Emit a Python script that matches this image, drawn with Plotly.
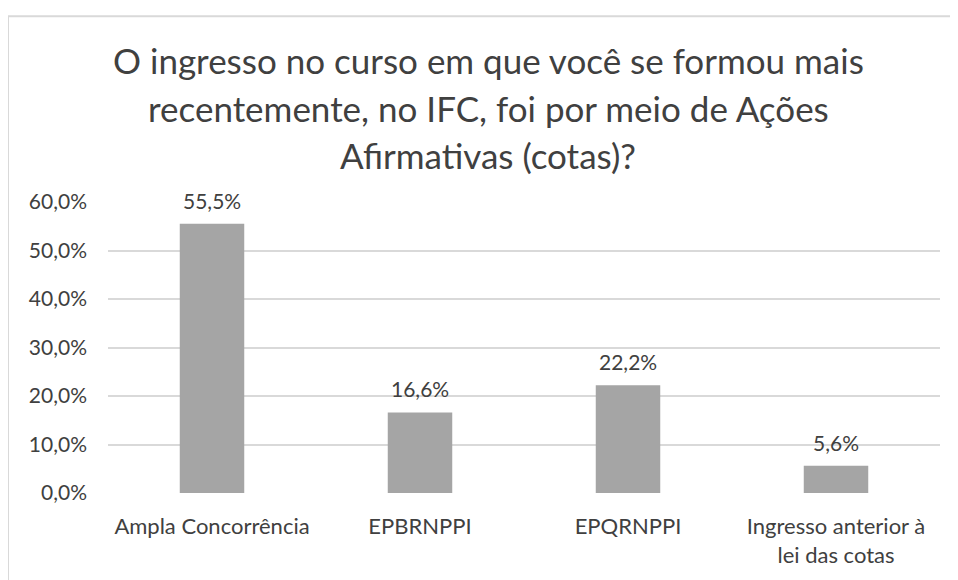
import plotly.graph_objects as go

# data
categories = ["Ampla Concorrência", "EPBRNPPI", "EPQRNPPI", "Ingresso anterior à<br>lei das cotas"]
percent = [55.5, 16.6, 22.2, 5.6]
y_ticks = [0, 10, 20, 30, 40, 50, 60]
title_lines = [
    "O ingresso no curso em que você se formou mais",
    "recentemente, no IFC, foi por meio de Ações",
    "Afirmativas (cotas)?",
]

TEXT = "#404040"
FONT = "Lato"

def pt(v):
    return f"{v:.1f}%".replace(".", ",")

fig = go.Figure()

fig.add_trace(go.Bar(
    x=categories, y=percent,
    marker=dict(color="#A5A5A5", line=dict(width=0)),
    showlegend=False, hoverinfo="skip",
))

# data labels above the bars
for c, v in zip(categories, percent):
    fig.add_annotation(x=c, y=v, text=pt(v), showarrow=False,
        yanchor="bottom", yshift=9,
        font=dict(size=21, color=TEXT, family=FONT))

# title, one line per annotation (Excel line spacing)
for i, line in enumerate(title_lines):
    fig.add_annotation(xref="paper", yref="paper",
        x=(488 - 108) / 832, y=(498 - (58 + 48 * i)) / 296,
        text=line, showarrow=False, xanchor="center", yanchor="middle",
        font=dict(size=35, color=TEXT, family=FONT))

# outer chart frame (cropped on the right and bottom, as in the source)
fig.add_shape(type="rect", xref="paper", yref="paper",
    x0=-0.1202, x1=1.2, y0=-0.4, y1=1.6385,
    line=dict(color="#D9D9D9", width=2), fillcolor="rgba(0,0,0,0)", layer="below")

# page body has an 8px margin, so the figure is 8px smaller and shifted
fig.update_layout(
    width=950, height=572,
    paper_bgcolor="white", plot_bgcolor="white",
    margin=dict(l=100, r=18, t=194, b=82),
    bargap=0.69,
    xaxis=dict(showgrid=False, zeroline=False, showline=False, ticks="",
               ticklabelstandoff=18,
               tickfont=dict(size=22, color=TEXT, family=FONT)),
    yaxis=dict(range=[0, 60], tickvals=y_ticks, ticktext=[pt(v) for v in y_ticks],
               showgrid=True, gridcolor="#D9D9D9", gridwidth=2, zeroline=False,
               showline=False, ticks="", ticklabelstandoff=20,
               tickfont=dict(size=21, color=TEXT, family=FONT)),
)

fig.write_html("out.html")
